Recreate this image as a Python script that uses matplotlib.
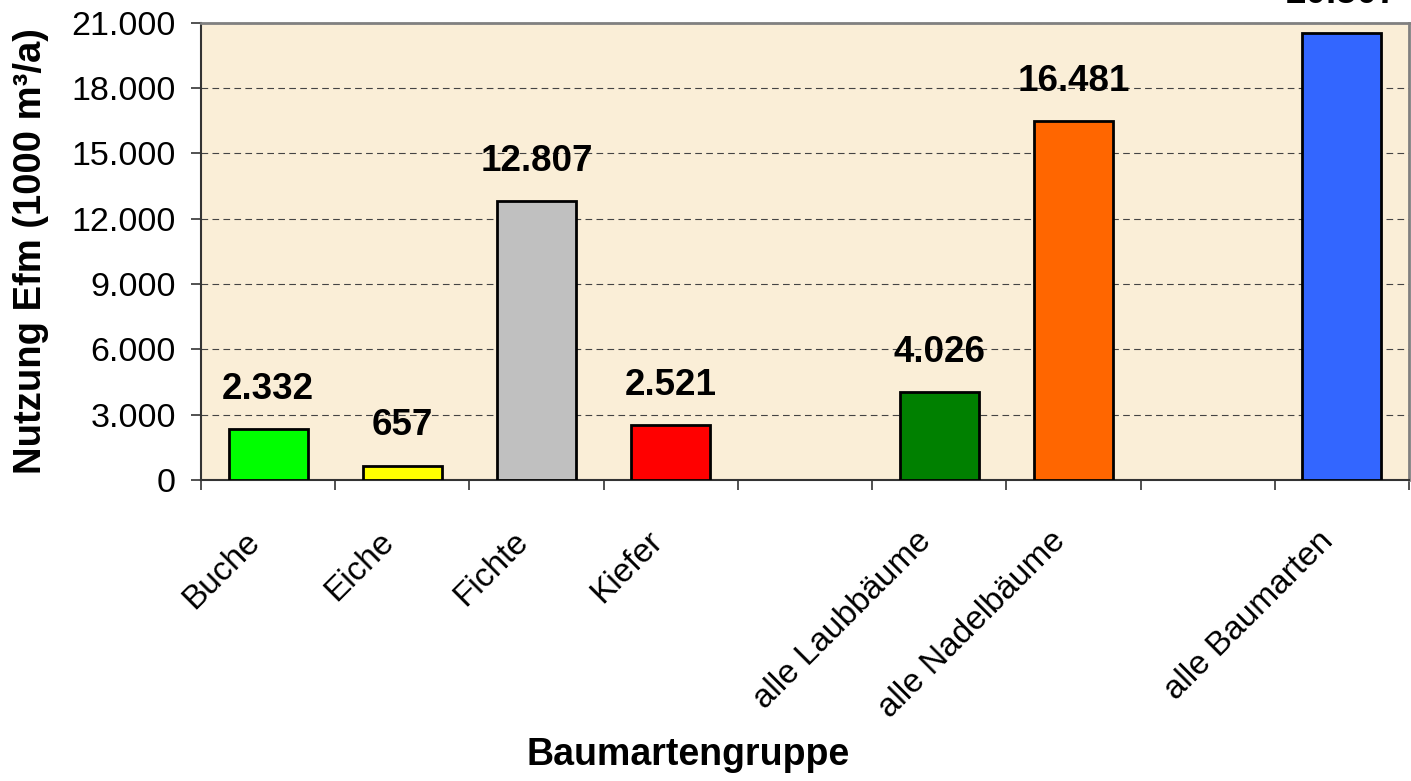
import numpy as np
import matplotlib
matplotlib.use('Agg')
import matplotlib.pyplot as plt
import matplotlib.transforms as mtransforms
from matplotlib.ticker import FuncFormatter, MultipleLocator

plt.rcParams['font.family'] = ['Liberation Sans', 'DejaVu Sans']
plt.rcParams['lines.scale_dashes'] = False

# Daten (Leere Einträge = Lücken wie in der Excel-Tabelle)
kategorien = ['Buche', 'Eiche', 'Fichte', 'Kiefer', '',
              'alle Laubbäume', 'alle Nadelbäume', '', 'alle Baumarten']
nutzung = [2332, 657, 12807, 2521, np.nan, 4026, 16481, np.nan, 20507]
farben = ['#00FF00', '#FFFF00', '#C0C0C0', '#FF0000', 'none',
          '#008000', '#FF6600', 'none', '#3366FF']


def tausender(v, pos=None):
    return f'{int(v):,}'.replace(',', '.')


fig = plt.figure(figsize=(14.11, 7.81), dpi=100)
ax = fig.add_axes([201/1411, 1 - 480/781, 1208/1411, 457.3/781])
ax.set_facecolor('#FAEED7')

x = np.arange(len(kategorien))
werte = np.array(nutzung, dtype=float)
da = ~np.isnan(werte)
ax.bar(x[da], werte[da], width=0.59, color=np.array(farben)[da],
       edgecolor='black', linewidth=2, zorder=3)

# Wertebeschriftung über den Balken
for xi, v in zip(x[da], werte[da]):
    ax.annotate(tausender(v), (xi, v), xytext=(0, 16), textcoords='offset points',
                ha='center', va='bottom', fontsize=26.5, fontweight='bold',
                annotation_clip=False)

ax.set_xlim(-0.5, len(kategorien) - 0.5)
ax.set_ylim(0, 21000)
ax.yaxis.set_major_locator(MultipleLocator(3000))
ax.yaxis.set_major_formatter(FuncFormatter(tausender))
ax.yaxis.grid(True, color='#444444', linestyle=(0, (4.8, 3.1)), linewidth=0.8)
ax.set_axisbelow(True)

# Teilstriche zwischen den Kategorien, Beschriftung in der Mitte
ax.set_xticks(x)
ax.set_xticklabels(kategorien, rotation=45, ha='right', va='top',
                   rotation_mode='anchor', fontsize=24)
ax.set_xticks(np.arange(len(kategorien) + 1) - 0.5, minor=True)
ax.tick_params(axis='x', which='major', length=0, pad=33)
ax.tick_params(axis='x', which='minor', length=7.2, width=1.2, color='#333333')
ax.tick_params(axis='y', length=7.2, width=1.2, color='#333333',
               labelsize=24.5, pad=11)
versatz = mtransforms.ScaledTranslation(-24/100, 0, fig.dpi_scale_trans)
for lbl in ax.get_xticklabels():
    lbl.set_transform(lbl.get_transform() + versatz)

for s in ['top', 'right']:
    ax.spines[s].set_color('#808080')
    ax.spines[s].set_linewidth(2)
for s in ['left', 'bottom']:
    ax.spines[s].set_color('#333333')
    ax.spines[s].set_linewidth(1.5)

ax.set_xlabel('Baumartengruppe', fontsize=27, fontweight='bold')
ax.xaxis.set_label_coords(0.403, -0.601)
ax.xaxis.label.set_va('center')
ax.set_ylabel('Nutzung Efm (1000 m³/a)', fontsize=27.5, fontweight='bold')
ax.yaxis.set_label_coords(-0.1407, 0.5)
ax.yaxis.label.set_va('center')

fig.savefig('out.png', dpi=100)
